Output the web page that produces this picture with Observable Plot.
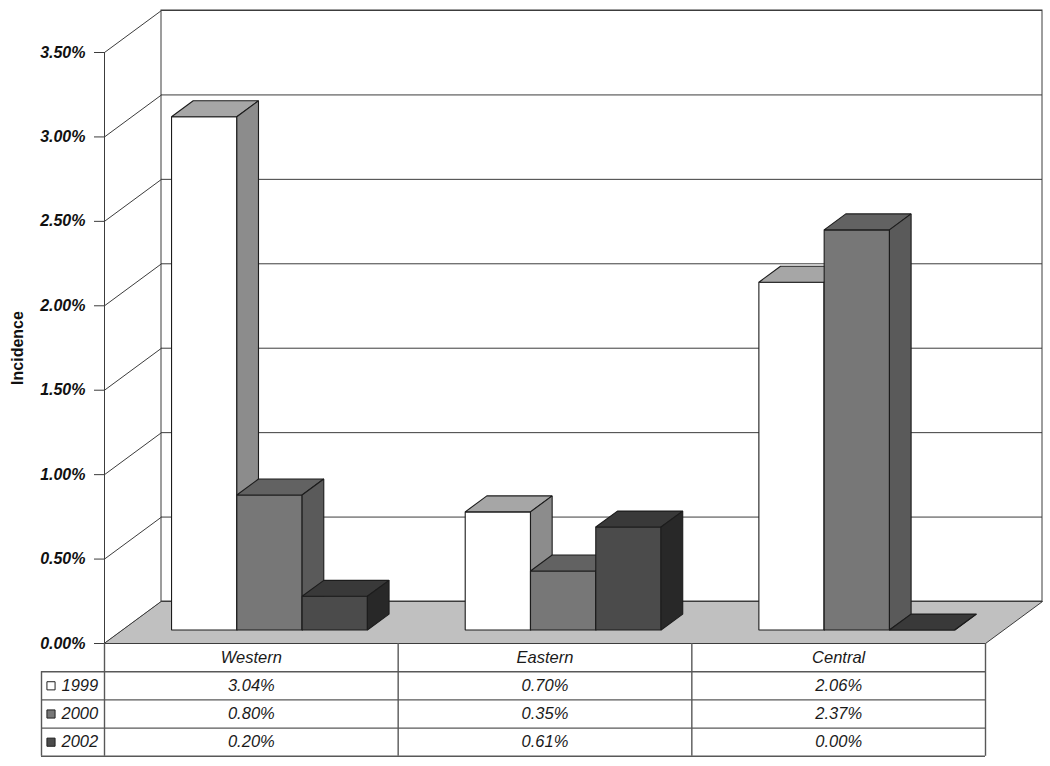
<!DOCTYPE html>
<html>
<head>
<meta charset="utf-8">
<script src="https://cdn.jsdelivr.net/npm/d3@7"></script>
<script src="https://cdn.jsdelivr.net/npm/@observablehq/plot@0.6"></script>
<style>
  html, body { margin: 0; padding: 0; background: #fff; }
  #chart svg { display: block; }
</style>
</head>
<body>
<div id="chart"></div>
<script>
// ---------- data ----------
const categories = ["Western", "Eastern", "Central"];
const years = ["1999", "2000", "2002"];
const values1999 = [3.04, 0.70, 2.06];
const values2000 = [0.80, 0.35, 2.37];
const values2002 = [0.20, 0.61, 0.00];
const yTicks = [0, 0.5, 1, 1.5, 2, 2.5, 3, 3.5];
const yTickLabels = ["0.00%", "0.50%", "1.00%", "1.50%", "2.00%", "2.50%", "3.00%", "3.50%"];
const yTitle = "Incidence";

// ---------- styling / layout ----------
const series = [values1999, values2000, values2002];
const faceColors = [
  {front: "#ffffff", top: "#a6a6a6", side: "#8c8c8c", legend: "#ffffff"},
  {front: "#777777", top: "#626262", side: "#5a5a5a", legend: "#777777"},
  {front: "#4b4b4b", top: "#393939", side: "#282828", legend: "#4b4b4b"}
];
const W = 1050, H = 766, mL = 104, mR = 65, mT = 52, mB = 123;
const yMax = 3.5;
const kx = (W - mL - mR) / categories.length;   // px per category unit
const ky = (H - mT - mB) / yMax;                // px per percent unit
const Dx = 57 / kx, Dy = 42 / ky;               // full floor depth in data units
const t1 = 0.32, t2 = 0.70;                     // bar front / back planes (fraction of depth)
const groupStart = 0.1662, barW = 0.2223;       // in category units
const rowPx = 28.2;
const rowY = k => -k * rowPx / ky;              // table rows below the baseline
const legendLeft = (41 - mL) / kx;
const fmt = d => d.toFixed(2) + "%";

// ---------- 3D faces as polygons ----------
const polys = [];
function poly(id, pts, fill) { pts.forEach(([x, y]) => polys.push({id, x, y, fill})); }
categories.forEach((c, i) => {
  series.forEach((vals, s) => {
    const v = vals[i];
    const x1 = i + groupStart + s * barW, x2 = x1 + barW;
    const fx = t1 * Dx, fy = t1 * Dy, bx = t2 * Dx, by = t2 * Dy;
    const col = faceColors[s], id = c + "-" + years[s];
    poly(id + "-front", [[x1 + fx, fy], [x2 + fx, fy], [x2 + fx, v + fy], [x1 + fx, v + fy]], col.front);
    poly(id + "-top", [[x1 + fx, v + fy], [x2 + fx, v + fy], [x2 + bx, v + by], [x1 + bx, v + by]], col.top);
    poly(id + "-side", [[x2 + fx, fy], [x2 + bx, by], [x2 + bx, v + by], [x2 + fx, v + fy]], col.side);
  });
});
const floor = [[0, 0], [categories.length, 0], [categories.length + Dx, Dy], [Dx, Dy]]
  .map(([x, y]) => ({id: "floor", x, y, fill: "#c0c0c0"}));

const wallStroke = "#3c3c3c";
const tableStroke = "#585858";
const italic = {fontStyle: "italic", fontSize: 16.5, fill: "#1a1a1a"};

const marks = [
  // back wall
  Plot.rect([0], {x1: Dx, x2: categories.length + Dx, y1: Dy, y2: yMax + Dy, fill: "#ffffff", stroke: wallStroke, strokeWidth: 1}),
  Plot.ruleY(yTicks, {y: d => d + Dy, x1: Dx, x2: categories.length + Dx, stroke: wallStroke, strokeWidth: 1}),
  // left wall diagonals and front axis line
  Plot.link(yTicks, {x1: 0, y1: d => d, x2: Dx, y2: d => d + Dy, stroke: wallStroke, strokeWidth: 1}),
  Plot.ruleX([0], {y1: 0, y2: yMax, stroke: wallStroke, strokeWidth: 1}),
  Plot.ruleY(yTicks, {x1: -10 / kx, x2: 0, stroke: wallStroke, strokeWidth: 1}),
  // floor
  Plot.line(floor, {x: "x", y: "y", z: "id", fill: "fill", stroke: wallStroke, strokeWidth: 1, curve: "linear-closed"}),
  // bars
  Plot.line(polys, {x: "x", y: "y", z: "id", fill: "fill", stroke: "#1c1c1c", strokeWidth: 1.1, curve: "linear-closed", strokeLinejoin: "miter"}),
  // y tick labels
  Plot.text(yTicks, {x: 0, y: d => d, dx: -19, text: (d, i) => yTickLabels[i], textAnchor: "end",
    fontWeight: "bold", fontStyle: "italic", fontSize: 16, fill: "#111"}),
  Plot.text([yTitle], {x: (17 - mL) / kx, y: yMax / 2, rotate: -90, text: d => d, fontWeight: "bold", fontSize: 16, fill: "#111"}),
  // data table
  Plot.ruleY([1, 2, 3, 4].map(rowY), {x1: legendLeft, x2: categories.length, stroke: tableStroke, strokeWidth: 1.4}),
  Plot.ruleX(d3.range(categories.length + 1), {y1: 0, y2: rowY(4), stroke: tableStroke, strokeWidth: 1.4}),
  Plot.ruleX([legendLeft], {y1: rowY(1), y2: rowY(4), stroke: tableStroke, strokeWidth: 1.4}),
  Plot.text(categories, {x: (d, i) => i + 0.5, y: rowY(0.5), text: d => d, ...italic}),
  ...series.map((vals, s) => Plot.text(vals, {x: (d, i) => i + 0.5, y: rowY(s + 1.5), text: fmt, ...italic})),
  Plot.dot(years, {x: (41 + 9.5 - mL) / kx, y: (d, s) => rowY(s + 1.5), symbol: "square", r: 4.6,
    fill: (d, s) => faceColors[s].legend, stroke: "#222", strokeWidth: 1}),
  Plot.text(years, {x: (61 - mL) / kx, y: (d, s) => rowY(s + 1.5), text: d => d, textAnchor: "start", ...italic})
];

const chart = Plot.plot({
  width: W,
  height: H,
  marginLeft: mL,
  marginRight: mR,
  marginTop: mT,
  marginBottom: mB,
  x: {domain: [0, categories.length], axis: null},
  y: {domain: [0, yMax], axis: null},
  color: {type: "identity"},
  style: {fontFamily: "'Liberation Sans', Arial, sans-serif", fontSize: "16px", background: "#ffffff", overflow: "visible"},
  marks
});
document.getElementById("chart").appendChild(chart);
</script>
</body>
</html>
